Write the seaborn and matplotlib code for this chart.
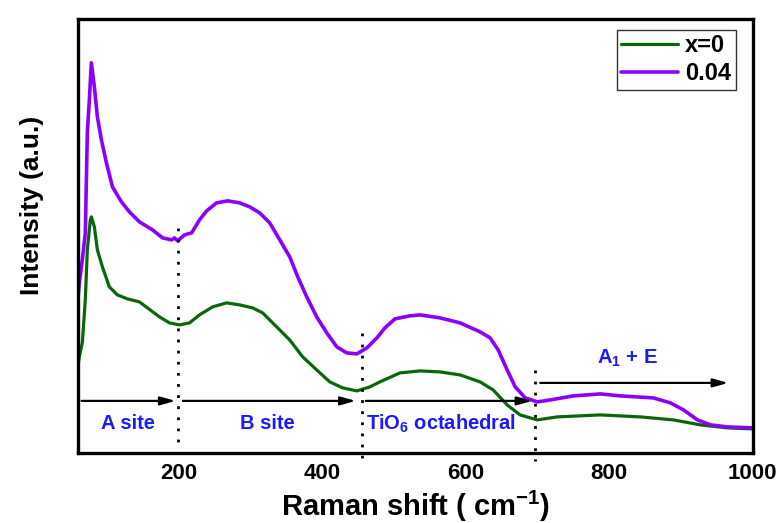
import matplotlib
matplotlib.use("Agg")
import matplotlib.pyplot as plt
import seaborn as sns
import pandas as pd

# ---- data ----
x_green = [59.0, 61.8, 66.0, 70.2, 73.0, 77.2, 78.6, 82.8, 87.0, 94.0, 103.7, 114.9, 128.9, 145.6,
           173.5, 187.5, 201.4, 215.4, 229.3, 247.5, 267.0, 285.2, 303.3, 317.3, 336.8, 354.9,
           373.1, 392.6, 410.8, 428.9, 448.5, 466.6, 480.6, 508.5, 536.4, 564.3, 592.3, 620.2,
           638.3, 657.9, 676.0, 699.8, 727.7, 787.7, 843.5, 889.6, 927.3, 965.0, 1001.0]
y_green = [83, 96, 110, 153, 203, 233, 236, 226, 203, 186, 166, 158, 154, 151,
           136, 130, 128, 130, 138, 146, 150, 148, 145, 140, 126, 113,
           96, 83, 71, 65, 62, 66, 71, 80, 82, 81, 78, 71,
           63, 48, 38, 33, 36, 38, 36, 33, 28, 25, 24]

x_purple = [59.0, 61.8, 66.0, 70.2, 73.0, 75.8, 78.6, 82.8, 87.0, 92.6, 99.6, 108.0, 120.5, 131.7,
            145.6, 163.8, 177.8, 190.4, 194.5, 198.7, 208.5, 218.3, 229.3, 239.2, 253.1, 268.5,
            285.2, 299.2, 313.1, 327.1, 341.1, 355.0, 366.2, 378.7, 392.6, 406.6, 420.6, 434.5,
            448.5, 462.5, 476.4, 487.6, 501.5, 522.0, 536.4, 564.3, 592.3, 620.2, 634.2, 645.4,
            657.9, 669.1, 683.1, 699.8, 718.0, 750.1, 787.7, 815.6, 861.7, 885.4, 903.6, 923.1,
            941.2, 965.0, 1001.0]
y_purple = [146, 170, 193, 220, 320, 353, 390, 366, 336, 313, 290, 266, 251, 241,
            231, 223, 215, 213, 215, 212, 218, 220, 233, 242, 250, 252,
            250, 246, 240, 230, 213, 196, 176, 156, 136, 120, 106, 100,
            99, 105, 115, 125, 134, 137, 138, 135, 130, 121, 115, 103,
            83, 66, 55, 51, 53, 57, 59, 57, 55, 50, 43, 33,
            28, 26, 25]

series_labels = ["x=0", "0.04"]
region_labels = ["A site", "B site", "TiO$_6$ octahedral", "A$_1$ + E"]
region_bounds = [65, 200, 455, 697, 966]
x_ticks = [200, 400, 600, 800, 1000]

# ---- style ----
sns.set_style("white")
plt.rcParams["font.family"] = ["Liberation Sans", "DejaVu Sans"]
plt.rcParams["font.weight"] = "bold"
plt.rcParams["text.color"] = "black"
plt.rcParams["axes.labelcolor"] = "black"
plt.rcParams["xtick.color"] = "black"
plt.rcParams["mathtext.fontset"] = "custom"
plt.rcParams["mathtext.rm"] = "Liberation Sans:bold"
plt.rcParams["mathtext.it"] = "Liberation Sans:bold"
plt.rcParams["mathtext.bf"] = "Liberation Sans:bold"
plt.rcParams["lines.solid_joinstyle"] = "round"

green = "#0c650c"
purple = "#8a00ff"
blue = "#1a1aff"

fig = plt.figure(figsize=(7.8, 5.23), dpi=100)
ax = fig.add_axes([0.1, 0.134, 0.865, 0.83])

df_g = pd.DataFrame({"x": x_green, "y": y_green})
df_p = pd.DataFrame({"x": x_purple, "y": y_purple})
sns.lineplot(data=df_g, x="x", y="y", ax=ax, color=green, lw=2.3, label=series_labels[0],
             sort=False, estimator=None)
sns.lineplot(data=df_p, x="x", y="y", ax=ax, color=purple, lw=2.6, label=series_labels[1],
             sort=False, estimator=None)

ax.set_xlim(60, 1000)
ax.set_ylim(0, 434)
ax.set_xticks(x_ticks)
ax.set_yticks([])
ax.tick_params(axis="x", length=0, pad=7, labelsize=16, labelcolor="black")
for lbl in ax.get_xticklabels():
    lbl.set_fontweight("bold")
for s in ax.spines.values():
    s.set_linewidth(2.4)
    s.set_color("black")

ax.set_xlabel("Raman shift ( cm$^{-1}$)", fontsize=21, fontweight="bold", labelpad=4, color="black")
ax.set_ylabel("Intensity (a.u.)", fontsize=19, fontweight="bold", color="black")
ax.yaxis.set_label_coords(-0.05, 0.57)

# dotted separators
ax.plot([region_bounds[1]] * 2, [225, 6], ls=(0, (1, 3)), color="black", lw=2)
ax.plot([region_bounds[2]] * 2, [120, -5], ls=(0, (1, 3)), color="black", lw=2, clip_on=False)
ax.plot([region_bounds[3]] * 2, [83, -8], ls=(0, (1, 3)), color="black", lw=2, clip_on=False)

# arrows
arrow_kw = dict(arrowstyle="-|>,head_length=0.9,head_width=0.25", color="black", lw=1.6,
                shrinkA=0, shrinkB=0)
y_arr = 52
ax.annotate("", xy=(region_bounds[1] - 4, y_arr), xytext=(region_bounds[0], y_arr), arrowprops=arrow_kw)
ax.annotate("", xy=(region_bounds[2] - 8, y_arr), xytext=(region_bounds[1] + 6, y_arr), arrowprops=arrow_kw)
ax.annotate("", xy=(region_bounds[3] - 4, y_arr), xytext=(region_bounds[2] + 6, y_arr), arrowprops=arrow_kw)
ax.annotate("", xy=(region_bounds[4], 70), xytext=(region_bounds[3] + 7, 70), arrowprops=arrow_kw)

txt_kw = dict(color=blue, fontsize=14.5, fontweight="bold", va="center")
ax.text(130, 29, region_labels[0], ha="center", **txt_kw)
ax.text(324, 29, region_labels[1], ha="center", **txt_kw)
ax.text(461, 29, region_labels[2], ha="left", **txt_kw)
ax.text(825, 95, region_labels[3], ha="center", **txt_kw)

leg = ax.legend(loc="upper right", bbox_to_anchor=(0.975, 0.975), frameon=True, fancybox=False,
                edgecolor="black", fontsize=17, handlelength=2.4, handletextpad=0.3,
                borderpad=0.2, labelspacing=0.2, borderaxespad=0)
leg.get_frame().set_linewidth(1.0)
for t in leg.get_texts():
    t.set_fontweight("bold")
    t.set_color("black")

fig.savefig("out.png", dpi=100)
